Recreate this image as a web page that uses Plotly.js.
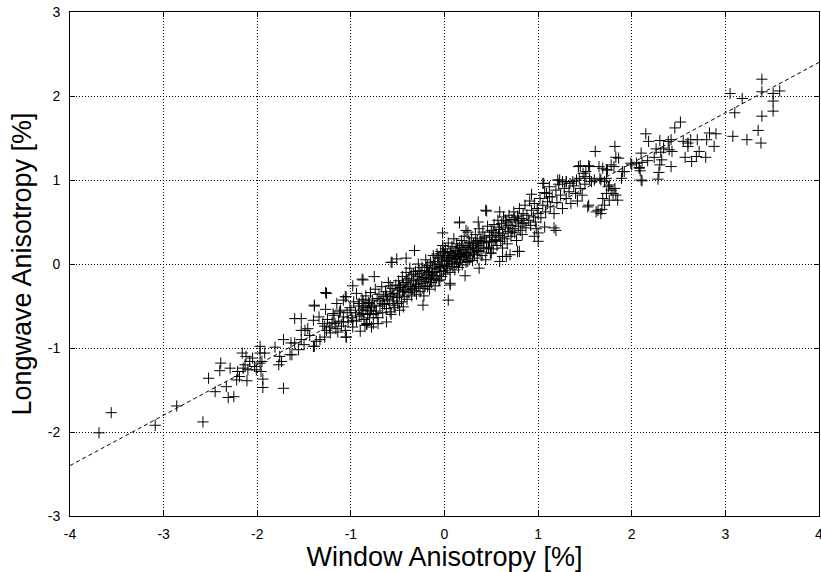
<!DOCTYPE html>
<html>
<head>
<meta charset="utf-8">
<script src="https://cdn.plot.ly/plotly-3.0.1.min.js"></script>
<style>html,body{margin:0;padding:0;background:#fff;}#chart{width:821px;height:572px;}</style>
</head>
<body>
<div id="chart"></div>
<script>
// [Window Anisotropy %, Longwave Anisotropy %] pairs
const leftTail = [[-3.69,-2.01],[-3.56,-1.77],[-3.09,-1.92],[-2.86,-1.69],[-2.58,-1.88],[-2.52,-1.36],[-2.45,-1.52],[-2.39,-1.18],[-2.40,-1.27],[-2.33,-1.46],[-2.31,-1.59],[-2.25,-1.58],[-2.29,-1.24],[-2.21,-1.28],[-2.19,-1.34],[-2.22,-1.38],[-2.15,-1.24],[-2.13,-1.20],[-2.10,-1.26],[-2.16,-1.06],[-2.12,-1.10],[-2.08,-1.16],[-2.05,-1.12],[-2.11,-1.39],[-2.03,-1.22],[-2.01,-1.26],[-1.97,-1.18],[-1.97,-0.98],[-1.97,-1.06],[-1.92,-1.06],[-1.95,-1.16],[-1.96,-1.28],[-1.94,-1.37],[-1.94,-1.47],[-1.81,-0.99],[-1.77,-1.20],[-1.72,-0.90],[-1.72,-1.48],[-1.76,-1.10],[-1.74,-1.16],[-1.64,-0.94],[-1.60,-0.94],[-1.63,-1.08],[-1.56,-1.02],[-1.53,-0.90],[-1.50,-0.96],[-1.65,-1.08]];
const leftMid = [[-1.60,-0.65],[-1.53,-0.65],[-1.53,-0.79],[-1.49,-0.79],[-1.46,-0.77],[-1.44,-0.85],[-1.40,-0.67],[-1.39,-0.49],[-1.34,-0.63],[-1.40,-0.98],[-1.37,-0.92],[-1.33,-0.90],[-1.26,-0.35],[-1.30,-0.71],[-1.26,-0.79],[-1.23,-0.75],[-1.28,-0.87],[-1.15,-0.47],[-1.19,-0.59],[-1.12,-0.57],[-1.08,-0.43],[-1.17,-0.71],[-1.14,-0.81],[-1.08,-0.69],[-1.05,-0.87],[-1.05,-0.39],[-1.00,-0.55],[-0.98,-0.67],[-0.94,-0.35],[-0.91,-0.47],[-0.87,-0.59],[-0.83,-0.71],[-0.76,-0.71],[-0.71,-0.71],[-0.62,-0.69],[-0.78,-0.51],[-0.73,-0.59],[-0.66,-0.47],[-0.58,-0.57],[-0.48,-0.55],[-0.55,-0.39],[-0.44,-0.51],[-1.27,-0.34],[-1.39,-0.50],[-1.27,-0.54],[-0.88,-0.18],[-0.75,-0.15],[-0.98,-0.26],[-1.06,-0.39],[-0.78,-0.75],[-1.05,-0.87],[-1.39,-0.98],[-0.57,0.02],[-0.51,0.06],[-0.32,0.16],[-0.41,0.07],[-0.56,0.02],[-0.87,-0.19],[-0.05,-0.19],[-0.23,-0.49],
[-1.28,-0.74],[-1.25,-0.66],[-1.22,-0.82],[-1.20,-0.70],[-1.18,-0.61],[-1.16,-0.77],[-1.13,-0.68],[-1.11,-0.55],[-1.10,-0.74],[-1.08,-0.63],[-1.06,-0.79],[-1.04,-0.58],[-1.03,-0.69],[-1.01,-0.52],[-0.99,-0.64],[-0.98,-0.75],[-0.97,-0.45],[-0.95,-0.58],[-0.94,-0.68],[-0.92,-0.50],[-0.91,-0.62],[-0.90,-0.80],[-0.88,-0.55],[-0.87,-0.44],[-0.86,-0.66],[-0.84,-0.52],[-0.83,-0.72],[-0.82,-0.60],[-0.80,-0.47],[-0.79,-0.56]];
const core = [[-0.89,-0.60],[-0.88,-0.42],[-0.86,-0.50],[-0.85,-0.73],[-0.84,-0.38],[-0.82,-0.55],[-0.81,-0.46],[-0.80,-0.64],[-0.79,-0.34],[-0.78,-0.52],[-0.77,-0.43],[-0.76,-0.60],[-0.75,-0.49],[-0.74,-0.30],[-0.73,-0.56],[-0.72,-0.41],[-0.71,-0.64],[-0.70,-0.36],[-0.69,-0.50],[-0.68,-0.44],[-0.67,-0.27],[-0.66,-0.58],[-0.65,-0.39],[-0.64,-0.48],[-0.63,-0.33],[-0.62,-0.53],[-0.61,-0.42],[-0.60,-0.22],[-0.59,-0.47],[-0.58,-0.36],[-0.57,-0.60],[-0.56,-0.29],[-0.55,-0.44],[-0.54,-0.35],[-0.53,-0.52],[-0.52,-0.25],[-0.51,-0.40],[-0.50,-0.31],[-0.50,-0.47],
[-0.49,-0.20],[-0.48,-0.37],[-0.47,-0.28],[-0.46,-0.45],[-0.45,-0.15],[-0.45,-0.33],[-0.44,-0.24],[-0.43,-0.39],[-0.42,-0.30],[-0.41,-0.10],[-0.41,-0.22],[-0.40,-0.42],[-0.39,-0.27],[-0.38,-0.17],[-0.38,-0.34],[-0.37,-0.05],[-0.36,-0.25],[-0.35,-0.38],[-0.35,-0.13],[-0.34,-0.29],[-0.33,-0.20],[-0.32,-0.32],[-0.31,-0.09],[-0.31,-0.24],[-0.30,-0.36],[-0.29,-0.15],[-0.28,-0.27],[-0.28,0.00],[-0.27,-0.19],[-0.26,-0.33],[-0.25,-0.11],[-0.25,-0.23],[-0.24,-0.04],[-0.23,-0.29],[-0.22,-0.16],[-0.22,-0.38],[-0.21,-0.08],[-0.20,-0.21],[-0.20,0.05],[-0.19,-0.13],[-0.18,-0.27],[-0.18,-0.02],[-0.17,-0.17],[-0.16,-0.09],[-0.16,-0.30],[-0.15,0.02],[-0.14,-0.14],[-0.14,-0.22],[-0.13,-0.05],[-0.12,0.10],[-0.12,-0.18],[-0.11,-0.10],[-0.10,0.03],[-0.10,-0.26],[-0.09,-0.06],[-0.08,0.12],[-0.08,-0.14],[-0.07,-0.01],[-0.06,-0.20],[-0.06,0.07],[-0.05,-0.09],[-0.04,0.15],[-0.04,-0.03],[-0.03,-0.15],[-0.02,0.05],[-0.02,0.22],[-0.01,-0.08],[0.00,0.10],[0.00,-0.02],
[0.01,-0.12],[0.01,0.18],[0.02,0.04],[0.03,-0.05],[0.03,0.12],[0.04,0.25],[0.05,0.00],[0.05,0.08],[0.06,-0.10],[0.07,0.15],[0.07,0.03],[0.08,0.21],[0.09,-0.03],[0.09,0.10],[0.10,0.30],[0.11,0.06],[0.11,-0.07],[0.12,0.16],[0.13,0.01],[0.13,0.24],[0.14,0.09],[0.15,-0.04],[0.15,0.13],[0.16,0.20],[0.17,0.05],[0.18,0.28],[0.18,0.11],[0.19,-0.01],[0.20,0.17],[0.21,0.08],[0.21,0.33],[0.22,0.14],[0.23,0.02],[0.24,0.22],[0.24,0.10],[0.25,0.38],[0.26,0.17],[0.27,0.06],[0.27,0.26],[0.28,0.13],[0.29,0.31],[0.30,0.20],[0.30,0.04],[0.31,0.24],[0.32,0.11],[0.33,0.35],[0.34,0.18],[0.35,0.28],[0.35,0.07],[0.36,0.22],[0.37,0.42],[0.38,0.15],[0.39,0.30],[0.40,0.10],[0.40,0.25],[0.41,0.38],[0.42,0.19],[0.43,0.32],[0.44,0.05],[0.45,0.27],[0.46,0.45],[0.47,0.20],[0.48,0.34],[0.49,0.13],[0.50,0.40],[0.50,0.26],
[0.51,0.32],[0.52,0.18],[0.53,0.47],[0.54,0.29],[0.55,0.37],[0.56,0.22],[0.57,0.52],[0.58,0.34],[0.59,0.41],[0.60,0.27],[0.61,0.48],[0.62,0.36],[0.63,0.56],[0.64,0.30],[0.65,0.43],[0.66,0.50],[0.67,0.24],[0.68,0.39],[0.69,0.58],[0.70,0.46],[0.71,0.33],[0.72,0.53],[0.73,0.42],[0.74,0.62],[0.75,0.37],[0.76,0.50],[0.77,0.28],[0.78,0.57],[0.79,0.45],[0.80,0.66],[0.81,0.40],[0.82,0.54],[0.83,0.35],[0.84,0.60],[0.85,0.49],[0.86,0.70],[0.87,0.43],[0.88,0.58],[0.90,0.52],[0.91,0.75],[0.92,0.46],[0.93,0.64],[0.95,0.56],[0.96,0.72],[0.97,0.50],[0.99,0.66],[1.00,0.60],
[1.02,0.78],[1.03,0.55],[1.05,0.70],[1.07,0.85],[1.08,0.62],[1.10,0.74],[1.12,0.92],[1.13,0.68],[1.15,0.80],[1.17,0.60],[1.19,0.88],[1.20,0.73],[1.22,0.95],[1.24,0.82],[1.26,0.66],[1.28,0.90],[1.30,0.78],[1.33,0.86],[1.35,0.72],[1.38,0.93],[1.40,0.84],[1.42,0.75],[1.45,0.90],[1.47,0.82],[1.50,0.95],
[-0.62,-0.38],[-0.58,-0.26],[-0.54,-0.49],[-0.48,-0.26],[-0.44,-0.32],[-0.40,-0.19],[-0.36,-0.30],[-0.33,-0.12],[-0.30,-0.27],[-0.27,-0.08],[-0.24,-0.18],[-0.21,-0.26],[-0.19,-0.04],[-0.17,-0.10],[-0.15,-0.19],[-0.13,-0.12],[-0.11,0.00],[-0.09,-0.17],[-0.07,0.08],[-0.05,-0.04],[-0.03,0.03],[-0.01,0.14],[0.02,-0.03],[0.04,0.07],[0.06,0.14],[0.08,0.00],[0.10,0.12],[0.12,0.07],[0.14,0.19],[0.16,0.02],[0.17,0.12],[0.19,0.22],[0.20,0.09],[0.22,0.20],[0.23,0.12],[0.25,0.03],[0.26,0.25],[0.28,0.19],[0.31,0.14],[0.33,0.25],[0.36,0.16],[0.38,0.27],[0.42,0.27],[0.45,0.18],[0.48,0.27],[0.52,0.38],[0.55,0.28],[0.58,0.44],[0.62,0.32],[0.65,0.52],[0.68,0.46],[0.72,0.38],[0.75,0.55],[0.79,0.52],[0.83,0.48]];
const rightMid = [[0.16,0.49],[-0.02,0.37],[0.23,0.40],[0.04,-0.43],[0.06,-0.23],[0.44,0.64],[0.16,0.50],[0.36,0.50],[0.59,0.62],[0.93,0.83],[1.06,0.96],[1.21,1.00],[1.09,0.84],[1.12,0.80],[0.98,0.42],[0.96,0.33],[1.00,0.27],[1.07,0.44],[0.80,0.15],[0.62,0.19],[0.62,0.09],[0.70,0.11],[0.50,0.13],[1.17,0.43],[1.19,0.40],[1.00,0.37],[0.66,0.09],[0.59,0.03],[0.78,0.15],[0.06,-0.25],[0.22,-0.14],[0.37,-0.05],[0.45,0.63],[1.05,0.96],[1.30,0.98],[1.43,1.16],[1.55,1.16],[1.60,1.00]];
const rightTail = [[3.39,2.20],[3.39,2.05],[3.05,2.03],[3.18,1.97],[3.51,2.03],[3.58,2.06],[3.51,1.94],[3.51,1.82],[3.10,1.80],[3.39,1.76],[3.35,1.59],[3.08,1.52],[3.23,1.48],[3.38,1.44],[2.52,1.69],[2.46,1.62],[2.15,1.55],[2.18,1.46],[2.30,1.47],[2.39,1.46],[2.42,1.48],[2.55,1.46],[2.60,1.44],[2.63,1.48],[2.70,1.48],[2.83,1.56],[2.90,1.55],[2.80,1.48],[2.88,1.40],[2.60,1.40],[2.57,1.27],[2.64,1.22],[2.69,1.28],[2.72,1.34],[2.79,1.27],[2.26,1.37],[2.34,1.38],[2.40,1.36],[2.43,1.34],[2.31,1.33],[2.24,1.27],[2.17,1.23],[2.32,1.24],[2.30,1.18],[2.42,1.16],[2.29,1.09],[2.28,1.01],[2.10,1.32],[2.11,1.21],[2.00,1.18],[2.08,1.15],[2.09,1.11],[2.11,0.99],[1.82,1.40],[1.83,1.27],[1.86,1.26],[1.92,1.10],[1.89,1.02],[1.81,1.16],[1.73,1.12],[1.73,1.02],[1.67,1.00],[1.76,0.94],[1.61,1.34],[1.45,1.17],[1.54,1.17],[1.48,1.08],[1.51,1.10],[1.50,1.04],[1.65,1.16],[1.69,1.14],[1.74,1.12],[1.78,1.18],[1.90,1.10],[1.99,1.20],[2.05,1.20],[2.08,1.14],[2.10,1.00],[1.23,1.00],[1.26,0.98],[1.30,0.98],[1.34,0.96],[1.37,0.98],[1.41,1.00],[1.44,1.02],[1.55,1.02],[1.57,0.98],[1.66,1.02],[1.71,0.98],[1.75,0.92],[1.73,0.84],[1.78,0.88],[1.82,0.90],[1.83,0.82],[1.85,0.76],[1.69,0.78],[1.76,0.76],[1.71,0.70],[1.64,0.64],[1.67,0.60],[1.53,0.68],[1.54,0.70],[1.62,0.62],[1.68,0.65],[1.80,0.84]];
// fitted line end points
const fitX = [-4, 4];
const fitY = [-2.4, 2.4];
const tickVals = [-4,-3,-2,-1,0,1,2,3,4];
const yTickVals = [-3,-2,-1,0,1,2,3];

const all = leftTail.concat(leftMid, core, rightMid, rightTail);
const xs = all.map(p => p[0]);
const ys = all.map(p => p[1]);

const font = 'Liberation Sans, Arial, Helvetica, sans-serif';
const data = [
  {x: fitX, y: fitY, type: 'scatter', mode: 'lines', line: {color: '#000', width: 1, dash: '4px,3px'}, hoverinfo: 'skip'},
  {x: xs, y: ys, type: 'scatter', mode: 'markers', marker: {symbol: 'cross-thin', size: 8, color: '#000', line: {width: 1, color: '#000'}}}
];
const axisCommon = {
  showline: true, linecolor: '#000', linewidth: 1, mirror: 'ticks',
  ticks: 'inside', ticklen: 5, tickcolor: '#000', tickwidth: 1,
  showgrid: true, gridcolor: '#000', gridwidth: 1, griddash: '1px,2px',
  zeroline: false, tickfont: {family: font, size: 14, color: '#000'},
  ticklabeloverflow: 'allow', automargin: false,
  fixedrange: true
};
const layout = {
  width: 821, height: 572,
  margin: {l: 70, r: 2, t: 12, b: 56},
  paper_bgcolor: '#fff', plot_bgcolor: '#fff',
  showlegend: false,
  xaxis: Object.assign({}, axisCommon, {range: [-4, 4], tickvals: tickVals, ticktext: tickVals.map(String),
    ticklabelstandoff: 5,
    title: {text: 'Window Anisotropy [%]', font: {family: font, size: 27, color: '#000'}, standoff: 5}}),
  yaxis: Object.assign({}, axisCommon, {range: [-3, 3], tickvals: yTickVals, ticktext: yTickVals.map(String),
    ticklabelstandoff: 6,
    title: {text: 'Longwave Anisotropy [%]', font: {family: font, size: 27, color: '#000'}, standoff: 8}})
};
Plotly.newPlot('chart', data, layout, {displayModeBar: false, staticPlot: true});
</script>
</body>
</html>
